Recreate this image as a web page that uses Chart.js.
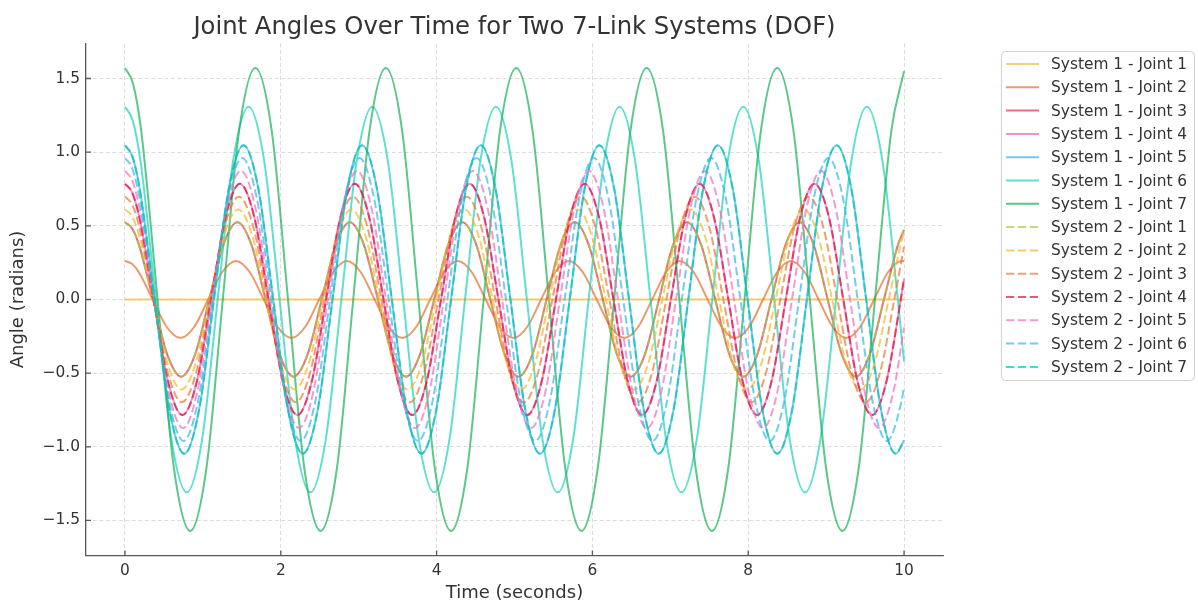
<!DOCTYPE html>
<html>
<head>
<meta charset="utf-8">
<script src="https://cdn.jsdelivr.net/npm/chart.js@4.4.0/dist/chart.umd.min.js"></script>
<style>
html, body { margin: 0; padding: 0; background: #fff; }
</style>
</head>
<body>
<canvas id="jointChart" width="1198" height="603"></canvas>
<script>
// tick labels
var xTicks = [0, 2, 4, 6, 8, 10];
var yTicks = [-1.5, -1.0, -0.5, 0.0, 0.5, 1.0, 1.5];
var yTickLabels = ["\u22121.5", "\u22121.0", "\u22120.5", "0.0", "0.5", "1.0", "1.5"];

// series names
var seriesLabels = [
    "System 1 - Joint 1", "System 1 - Joint 2", "System 1 - Joint 3", "System 1 - Joint 4",
    "System 1 - Joint 5", "System 1 - Joint 6", "System 1 - Joint 7",
    "System 2 - Joint 1", "System 2 - Joint 2", "System 2 - Joint 3", "System 2 - Joint 4",
    "System 2 - Joint 5", "System 2 - Joint 6", "System 2 - Joint 7"
];

// curves, grouped by starting angle (time in s, angle in rad)
var time0 = [0, 10];
var angle0 = [0, 0];

var time15 = [0,0.089,0.178,0.356,0.534,0.712,0.890,1.068,1.247,1.425,1.603,1.781,1.959,2.137,2.315,2.493,2.671,2.849,3.027,3.205,3.383,3.562,3.740,3.918,4.096,4.274,4.452,4.630,4.808,4.986,5.164,5.342,5.520,5.698,5.877,6.055,6.233,6.411,6.589,6.767,6.945,7.123,7.301,7.479,7.657,7.835,8.013,8.191,8.370,8.548,8.726,8.904,9.082,9.260,9.438,9.616,9.794,9.972,10];
var angle15 = [0.262,0.242,0.185,0,-0.185,-0.262,-0.185,0,0.185, 0.262,0.185,0,-0.185,-0.262,-0.185,0,0.185,
    0.262,0.185,0,-0.185,-0.262,-0.185,0,0.185, 0.262,0.185,0,-0.185,-0.262,-0.185,0,0.185,
    0.262,0.185,0,-0.185,-0.262,-0.185,0,0.185, 0.262,0.185,0,-0.185,-0.262,-0.185,0,0.185,
    0.262,0.185,0,-0.185,-0.262,-0.185,0,0.185, 0.262,0.260];

var time30 = [0,0.090,0.180,0.361,0.541,0.722,0.902,1.082,1.263,1.443,1.624,1.804,1.984,2.165,2.345,2.526,2.706,2.886,3.067,3.247,3.428,3.608,3.788,3.969,4.149,4.330,4.510,4.690,4.871,5.051,5.232,5.412,5.592,5.773,5.953,6.134,6.314,6.494,6.675,6.855,7.036,7.216,7.396,7.577,7.757,7.938,8.118,8.298,8.479,8.659,8.840,9.020,9.200,9.381,9.561,9.742,9.922,10];
var angle30 = [0.524,0.484,0.371,0,-0.371,-0.524,-0.371,0,0.371, 0.524,0.371,0,-0.371,-0.524,-0.371,0,0.371,
    0.524,0.371,0,-0.371,-0.524,-0.371,0,0.371, 0.524,0.371,0,-0.371,-0.524,-0.371,0,0.371,
    0.524,0.371,0,-0.371,-0.524,-0.371,0,0.371, 0.524,0.371,0,-0.371,-0.524,-0.371,0,0.371,
    0.524,0.371,0,-0.371,-0.524,-0.371,0,0.371, 0.472];

var time35 = [0,0.091,0.182,0.363,0.545,0.726,0.908,1.089,1.271,1.452,1.634,1.815,1.997,2.178,2.360,2.542,2.723,2.905,3.086,3.268,3.449,3.631,3.812,3.994,4.175,4.357,4.538,4.720,4.902,5.083,5.265,5.446,5.628,5.809,5.991,6.172,6.354,6.535,6.717,6.898,7.080,7.262,7.443,7.625,7.806,7.988,8.169,8.351,8.532,8.714,8.895,9.077,9.258,9.440,9.622,9.803,9.985,10];
var angle35 = [0.611,0.565,0.434,0,-0.434,-0.611,-0.434,0,0.434, 0.611,0.434,0,-0.434,-0.611,-0.434,0,0.434,
    0.611,0.434,0,-0.434,-0.611,-0.434,0,0.434, 0.611,0.434,0,-0.434,-0.611,-0.434,0,0.434,
    0.611,0.434,0,-0.434,-0.611,-0.434,0,0.434, 0.611,0.434,0,-0.434,-0.611,-0.434,0,0.434,
    0.611,0.434,0,-0.434,-0.611,-0.434,0,0.434, 0.461];

var time40 = [0,0.091,0.183,0.366,0.549,0.731,0.914,1.097,1.280,1.463,1.646,1.829,2.012,2.194,2.377,2.560,2.743,2.926,3.109,3.292,3.475,3.657,3.840,4.023,4.206,4.389,4.572,4.755,4.937,5.120,5.303,5.486,5.669,5.852,6.035,6.218,6.400,6.583,6.766,6.949,7.132,7.315,7.498,7.681,7.863,8.046,8.229,8.412,8.595,8.778,8.961,9.144,9.326,9.509,9.692,9.875,10];
var angle40 = [0.698,0.646,0.496,0,-0.496,-0.698,-0.496,0,0.496, 0.698,0.496,0,-0.496,-0.698,-0.496,0,0.496,
    0.698,0.496,0,-0.496,-0.698,-0.496,0,0.496, 0.698,0.496,0,-0.496,-0.698,-0.496,0,0.496,
    0.698,0.496,0,-0.496,-0.698,-0.496,0,0.496, 0.698,0.496,0,-0.496,-0.698,-0.496,0,0.496,
    0.698,0.496,0,-0.496,-0.698,-0.496,0, 0.358];

var time45 = [0,0.092,0.184,0.369,0.553,0.738,0.922,1.106,1.291,1.475,1.660,1.844,2.028,2.213,2.397,2.582,2.766,2.950,3.135,3.319,3.504,3.688,3.872,4.057,4.241,4.426,4.610,4.794,4.979,5.163,5.348,5.532,5.716,5.901,6.085,6.270,6.454,6.638,6.823,7.007,7.192,7.376,7.560,7.745,7.929,8.114,8.298,8.482,8.667,8.851,9.036,9.220,9.404,9.589,9.773,9.958,10];
var angle45 = [0.785,0.727,0.559,0,-0.559,-0.785,-0.559,0,0.559, 0.785,0.559,0,-0.559,-0.785,-0.559,0,0.559,
    0.785,0.559,0,-0.559,-0.785,-0.559,0,0.559, 0.785,0.559,0,-0.559,-0.785,-0.559,0,0.559,
    0.785,0.559,0,-0.559,-0.785,-0.559,0,0.559, 0.785,0.559,0,-0.559,-0.785,-0.559,0,0.559,
    0.785,0.559,0,-0.559,-0.785,-0.559,0, 0.142];

var time50 = [0,0.093,0.186,0.372,0.558,0.745,0.931,1.117,1.303,1.489,1.675,1.861,2.048,2.234,2.420,2.606,2.792,2.978,3.164,3.351,3.537,3.723,3.909,4.095,4.281,4.467,4.654,4.840,5.026,5.212,5.398,5.584,5.770,5.956,6.143,6.329,6.515,6.701,6.887,7.073,7.259,7.446,7.632,7.818,8.004,8.190,8.376,8.562,8.749,8.935,9.121,9.307,9.493,9.679,9.865,10];
var angle50 = [0.873,0.808,0.622,0,-0.622,-0.873,-0.622,0,0.622, 0.873,0.622,0,-0.622,-0.873,-0.622,0,0.622,
    0.873,0.622,0,-0.622,-0.873,-0.622,0,0.622, 0.873,0.622,0,-0.622,-0.873,-0.622,0,0.622,
    0.873,0.622,0,-0.622,-0.873,-0.622,0,0.622, 0.873,0.622,0,-0.622,-0.873,-0.622,0,0.622,
    0.873,0.622,0,-0.622,-0.873,-0.622, -0.190];

var time55 = [0,0.094,0.188,0.376,0.564,0.752,0.940,1.129,1.317,1.505,1.693,1.881,2.069,2.257,2.445,2.633,2.821,3.010,3.198,3.386,3.574,3.762,3.950,4.138,4.326,4.514,4.702,4.891,5.079,5.267,5.455,5.643,5.831,6.019,6.207,6.395,6.583,6.772,6.960,7.148,7.336,7.524,7.712,7.900,8.088,8.276,8.464,8.653,8.841,9.029,9.217,9.405,9.593,9.781,9.969,10];
var angle55 = [0.960,0.890,0.686,0,-0.686,-0.960,-0.686,0,0.686, 0.960,0.686,0,-0.686,-0.960,-0.686,0,0.686,
    0.960,0.686,0,-0.686,-0.960,-0.686,0,0.686, 0.960,0.686,0,-0.686,-0.960,-0.686,0,0.686,
    0.960,0.686,0,-0.686,-0.960,-0.686,0,0.686, 0.960,0.686,0,-0.686,-0.960,-0.686,0,0.686,
    0.960,0.686,0,-0.686,-0.960,-0.686, -0.590];

var time60 = [0,0.095,0.190,0.381,0.571,0.761,0.951,1.142,1.332,1.522,1.713,1.903,2.093,2.283,2.474,2.664,2.854,3.045,3.235,3.425,3.615,3.806,3.996,4.186,4.377,4.567,4.757,4.948,5.138,5.328,5.518,5.709,5.899,6.089,6.280,6.470,6.660,6.850,7.041,7.231,7.421,7.612,7.802,7.992,8.182,8.373,8.563,8.753,8.944,9.134,9.324,9.514,9.705,9.895,10];
var angle60 = [1.047,0.971,0.750,0,-0.750,-1.047,-0.750,0,0.750, 1.047,0.750,0,-0.750,-1.047,-0.750,0,0.750,
    1.047,0.750,0,-0.750,-1.047,-0.750,0,0.750, 1.047,0.750,0,-0.750,-1.047,-0.750,0,0.750,
    1.047,0.750,0,-0.750,-1.047,-0.750,0,0.750, 1.047,0.750,0,-0.750,-1.047,-0.750,0,0.750,
    1.047,0.750,0,-0.750,-1.047, -0.955];

var time75 = [0,0.099,0.198,0.397,0.595,0.794,0.992,1.190,1.389,1.587,1.786,1.984,2.182,2.381,2.579,2.778,2.976,3.174,3.373,3.571,3.770,3.968,4.167,4.365,4.563,4.762,4.960,5.159,5.357,5.555,5.754,5.952,6.151,6.349,6.547,6.746,6.944,7.143,7.341,7.539,7.738,7.936,8.135,8.333,8.531,8.730,8.928,9.127,9.325,9.523,9.722,9.920,10];
var angle75 = [1.309,1.216,0.944,0,-0.944,-1.309,-0.944,0,0.944, 1.309,0.944,0,-0.944,-1.309,-0.944,0,0.944,
    1.309,0.944,0,-0.944,-1.309,-0.944,0,0.944, 1.309,0.944,0,-0.944,-1.309,-0.944,0,0.944,
    1.309,0.944,0,-0.944,-1.309,-0.944,0,0.944, 1.309,0.944,0,-0.944,-1.309,-0.944,0,0.944,
    1.309,0.944,0, -0.421];

var time90 = [0,0.105,0.209,0.419,0.628,0.837,1.046,1.256,1.465,1.674,1.884,2.093,2.302,2.511,2.721,2.930,3.139,3.349,3.558,3.767,3.977,4.186,4.395,4.604,4.814,5.023,5.232,5.442,5.651,5.860,6.069,6.279,6.488,6.697,6.907,7.116,7.325,7.534,7.744,7.953,8.162,8.372,8.581,8.790,8.999,9.209,9.418,9.627,9.837,10];
var angle90 = [1.571,1.463,1.144,0,-1.144,-1.571,-1.144,0,1.144, 1.571,1.144,0,-1.144,-1.571,-1.144,0,1.144,
    1.571,1.144,0,-1.144,-1.571,-1.144,0,1.144, 1.571,1.144,0,-1.144,-1.571,-1.144,0,1.144,
    1.571,1.144,0,-1.144,-1.571,-1.144,0,1.144, 1.571,1.144,0,-1.144,-1.571,-1.144,0,1.144,
    1.550];

// which curve each legend entry uses (some joints overlap exactly)
var seriesTimes = [time0, time15, time30, time45, time60, time75, time90,
                   time30, time35, time40, time45, time50, time55, time60];
var seriesAngles = [angle0, angle15, angle30, angle45, angle60, angle75, angle90,
                    angle30, angle35, angle40, angle45, angle50, angle55, angle60];

var seriesColors = [
    "rgba(241,186,61,0.7)", "rgba(228,111,45,0.7)", "rgba(228,42,88,0.7)", "rgba(236,98,181,0.7)",
    "rgba(55,176,234,0.7)", "rgba(26,211,186,0.7)", "rgba(22,176,88,0.7)",
    "rgba(172,201,65,0.7)", "rgba(244,182,42,0.7)", "rgba(234,119,51,0.7)", "rgba(222,19,65,0.7)",
    "rgba(239,111,188,0.7)", "rgba(54,182,234,0.7)", "rgba(0,199,176,0.7)"
];
var dashPattern = [8.3, 3.6];

var FONT = "'DejaVu Sans', sans-serif";
Chart.defaults.font.family = FONT;
Chart.defaults.color = "#333";

var datasets = seriesLabels.map(function (label, i) {
    return {
        label: label,
        data: seriesTimes[i].map(function (t, k) { return { x: t, y: seriesAngles[i][k] }; }),
        borderColor: seriesColors[i],
        borderWidth: 2,
        borderDash: i >= 7 ? dashPattern : [],
        pointRadius: 0,
        fill: false,
        cubicInterpolationMode: "monotone",
        order: seriesLabels.length - i
    };
});

// inward tick marks + matplotlib style legend box
var axisDecor = {
    id: "axisDecor",
    afterDraw: function (chart) {
        var ctx = chart.ctx;
        var area = chart.chartArea;
        var xs = chart.scales.x, ys = chart.scales.y;
        ctx.save();
        ctx.strokeStyle = "#595959";
        ctx.lineWidth = 1.3;
        ctx.beginPath();
        xTicks.forEach(function (v) {
            var px = xs.getPixelForValue(v);
            ctx.moveTo(px, area.bottom);
            ctx.lineTo(px, area.bottom - 5);
        });
        yTicks.forEach(function (v) {
            var py = ys.getPixelForValue(v);
            ctx.moveTo(area.left, py);
            ctx.lineTo(area.left + 5, py);
        });
        ctx.stroke();

        // legend
        var bx = 1001.5, by = 51.5, bw = 193, bh = 329;
        ctx.fillStyle = "rgba(255,255,255,0.8)";
        ctx.strokeStyle = "#d0d0d0";
        ctx.lineWidth = 1;
        ctx.beginPath();
        ctx.roundRect(bx, by, bw, bh, 4);
        ctx.fill();
        ctx.stroke();
        ctx.font = "15.4px " + FONT;
        ctx.textBaseline = "middle";
        ctx.textAlign = "left";
        seriesLabels.forEach(function (label, i) {
            var y = 64 + i * 23.3;
            ctx.strokeStyle = seriesColors[i];
            ctx.lineWidth = 2;
            ctx.setLineDash(i >= 7 ? dashPattern : []);
            ctx.beginPath();
            ctx.moveTo(1006, y);
            ctx.lineTo(1039, y);
            ctx.stroke();
            ctx.setLineDash([]);
            ctx.fillStyle = "#333";
            ctx.fillText(label, 1051, y + 1);
        });
        ctx.restore();
    }
};

var ctx = document.getElementById("jointChart").getContext("2d");
var jointChart = new Chart(ctx, {
    type: "line",
    data: { datasets: datasets },
    options: {
        responsive: false,
        animation: false,
        devicePixelRatio: 1,
        layout: { padding: { left: 0, right: 255, top: 0, bottom: 0 } },
        plugins: {
            legend: { display: false },
            tooltip: { enabled: false },
            title: {
                display: true,
                text: "Joint Angles Over Time for Two 7-Link Systems (DOF)",
                fullSize: false,
                color: "#333",
                font: { size: 24.3, weight: "normal", family: FONT },
                padding: { top: 13, bottom: 1.3 }
            }
        },
        scales: {
            x: {
                type: "linear",
                min: -0.5,
                max: 10.5,
                afterBuildTicks: function (scale) {
                    scale.ticks = xTicks.map(function (v) { return { value: v }; });
                },
                afterFit: function (scale) { scale.height = 47.5; },
                ticks: {
                    color: "#333",
                    font: { size: 15.4 },
                    padding: 6,
                    maxRotation: 0,
                    callback: function (v) { return String(v); }
                },
                grid: { color: "#d3d3d3", lineWidth: 0.8, drawTicks: false },
                border: { display: true, color: "#595959", width: 1.3, dash: [4, 2.5] },
                title: {
                    display: true,
                    text: "Time (seconds)",
                    color: "#333",
                    font: { size: 18, lineHeight: 1.1 },
                    padding: { top: 0, bottom: 0 }
                }
            },
            y: {
                type: "linear",
                min: -1.738,
                max: 1.738,
                afterBuildTicks: function (scale) {
                    scale.ticks = yTicks.map(function (v) { return { value: v }; });
                },
                afterFit: function (scale) { scale.width = 86; },
                ticks: {
                    color: "#333",
                    font: { size: 15.4 },
                    padding: 6,
                    callback: function (v, idx) { return yTickLabels[idx]; }
                },
                grid: { color: "#d3d3d3", lineWidth: 0.8, drawTicks: false },
                border: { display: true, color: "#595959", width: 1.3, dash: [4, 2.5] },
                title: {
                    display: true,
                    text: "Angle (radians)",
                    color: "#333",
                    font: { size: 18 },
                    padding: { top: 8, bottom: 0 }
                }
            }
        }
    },
    plugins: [axisDecor]
});
</script>
</body>
</html>
